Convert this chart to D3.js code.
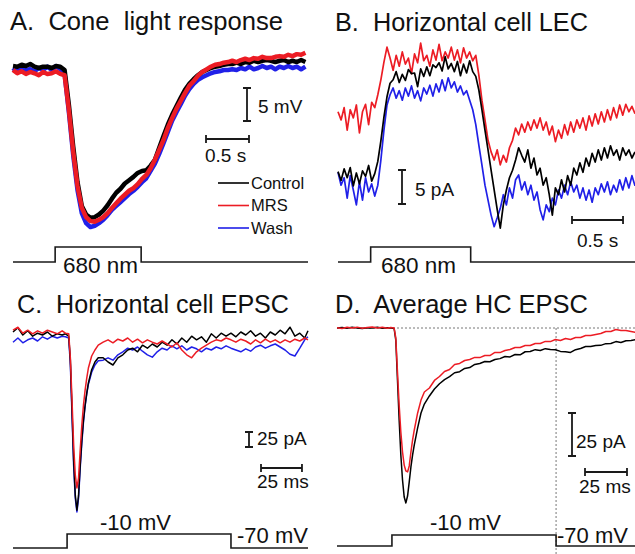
<!DOCTYPE html>
<html><head><meta charset="utf-8">
<script src="https://cdn.jsdelivr.net/npm/d3@7/dist/d3.min.js"></script>
<style>
html,body{margin:0;padding:0;background:#fff;}
svg{display:block;font-family:"Liberation Sans",Arial,Helvetica,sans-serif;}
text{fill:#111;white-space:pre;}
</style></head><body>
<svg id="fig" width="635" height="554"></svg>
<script>
// ---------------- DATA ----------------
const seriesNames = ["Control", "MRS", "Wash"];

// Panel A: cone voltage (mV, relative), sampled every 0.05 s
const coneDt = 0.05;
const coneControl = [0.3,0.2,0.5,0.3,0.6,0.2,0,0.2,0.2,0,0.3,0.2,-0.3,-5.6,-11.9,-17.3,-20.9,-22.2,-22.7,-22.6,-22.2,-21.6,-20.8,-19.8,-18.9,-18.3,-17.5,-17.0,-16.5,-15.9,-15.6,-15.5,-14.8,-13.9,-12.1,-10.3,-8.6,-7.1,-5.8,-4.5,-3.3,-2.4,-1.7,-1.1,-0.6,-0.3,0,0.2,0.3,0.5,0.6,0.6,0.8,0.6,0.9,0.8,1.1,0.9,1.1,1.2,1.1,0.9,1.1,1.2,0.9,1.1,0.9,1.2,0.9];
const coneMRS = [-0.3,-0.8,-0.5,-0.9,-0.6,-0.8,-1.1,-0.6,-0.9,-0.8,-0.5,-0.9,-1.1,-6.4,-12.7,-17.9,-21.2,-22.6,-23.2,-23.3,-23.0,-22.6,-22.0,-21.2,-20.5,-19.8,-19.2,-18.6,-18.2,-17.6,-16.8,-16.2,-15.2,-13.9,-12.4,-10.9,-9.1,-7.6,-6.2,-5.0,-3.8,-2.7,-2.0,-1.2,-0.6,-0.2,0.2,0.5,0.6,0.8,0.9,1.1,0.9,1.2,1.4,1.2,1.5,1.4,1.7,1.5,1.5,1.7,1.8,1.7,2.0,1.8,2.1,2.0,2.3];
const coneWash = [0,-0.6,0.3,-0.3,-0.2,-0.5,0,-0.3,0.2,-0.3,0.3,-0.2,-0.9,-6.7,-13.2,-18.5,-22.0,-23.5,-24.1,-23.9,-23.5,-23.0,-22.3,-21.5,-20.9,-20.3,-19.7,-19.1,-18.6,-18.0,-17.3,-16.7,-15.6,-14.5,-13.0,-11.4,-9.7,-8.0,-6.7,-5.5,-4.2,-3.2,-2.4,-1.8,-1.4,-1.1,-0.8,-0.6,-0.5,-0.3,-0.3,-0.2,-0.3,0,-0.2,0.2,-0.2,0,0.3,0,0.2,-0.2,0.2,0,0.3,0,0.2,-0.2,0.2];
const lightA = [0.49, 1.49];   // light on / off (s)

// Panel B: horizontal cell LEC (pA), sampled every 0.03 s
const lecDt = 0.03;
const lecControl = [0.5,-0.8,0.9,-0.4,1.1,-1.6,0.3,-1.3,0.6,-0.2,1.4,-0.9,0.2,2.0,5.0,8.5,11.5,13.5,14.0,15.2,13.6,14.8,13.9,15.5,14.9,15.0,13.0,15.6,14.5,15.9,14.6,16.2,15.8,16.5,15.3,17.4,15.6,16.4,15.2,16.7,14.6,16.3,15.0,16.8,15.2,14.5,12.5,9.6,6.6,3.7,0.7,-2.2,-5.1,-7.8,-4.4,-2.2,-0.4,0.7,2.2,4.0,2.9,1.9,3.7,1.0,2.5,0,1.0,-1.5,-0.4,-2.9,-5.9,-1.9,-2.9,-0.7,-2.5,-0.1,-1.5,1.0,0,1.8,0.4,2.5,1.3,3.2,1.9,3.7,2.2,4.0,2.5,4.3,2.9,3.7,2.2,4.0,2.9,3.7,2.5,3.4];
const lecMRS = [9.3,8.1,9.9,6.6,9.6,8.4,10.3,6.2,9.3,10.4,7.4,10.7,9.9,11.8,14.0,16.6,18.8,17.2,15.4,17.6,16.0,18.1,16.3,17.2,14.9,17.8,16.5,19.4,16.8,17.6,16.0,18.4,16.9,19.2,16.8,18.1,17.2,18.8,16.9,18.4,16.5,18.7,17.2,18.1,16.8,17.6,14.7,11.0,8.1,5.1,3.4,2.2,3.7,1.5,2.9,1.9,4.0,5.1,6.9,5.9,7.5,6.3,7.8,6.6,8.1,6.9,8.4,6.6,7.8,5.9,7.2,4.9,6.6,5.4,7.4,5.9,7.8,6.3,8.1,6.9,8.4,6.6,8.7,7.2,9.0,7.5,9.3,7.8,9.6,8.1,9.9,8.4,10.3,8.8,10.4,9.3,10.1,9.0];
const lecWash = [0.4,-1.5,-0.4,-3.4,-0.1,-2.2,-4.4,-1.0,-3.7,-0.4,-2.5,-1.3,-3.1,-1.5,2.2,6.6,10.3,11.8,12.8,11.3,12.4,11.0,12.8,11.6,13.1,11.3,12.4,10.9,12.8,11.9,13.2,11.6,13.4,12.2,14.0,12.4,14.3,12.8,13.7,12.2,13.1,11.8,12.4,11.0,9.6,7.4,4.4,1.5,-1.5,-3.7,-5.9,-7.6,-6.3,-4.9,-2.9,-4.4,-1.9,-3.4,-0.7,0,-2.2,-1.0,-2.9,-1.5,-3.7,-2.5,-5.1,-6.6,-4.4,-5.4,-3.4,-4.4,-2.2,-3.4,-1.5,-2.9,-1.0,-2.5,-1.5,-3.4,-1.9,-3.7,-2.2,-4.0,-1.9,-2.9,-1.3,-2.5,-1.0,-2.9,-1.5,-2.5,-0.7,-2.2,-0.4,-1.9,-0.1,-1.6];
const lightB = [0.32, 1.30];

// Panels C & D: EPSC time base (ms)
const epscTime = [0,3,6,9,12,15,18,21,24,27,30,32,34,35,36,37,38,39,40,41,42,43,44,45,46,48,50,52,55,58,61,64,67,70,73,76,79,82,85,88,91,94,97,100,103,106,109,112,115,118,121,124,127,130,133,136,139,142,145,148,151,154,157,160,163,166,169,172,175,178,180];
// Panel C: single-cell EPSC (pA)
const epscControl = [5,12,0,7,-2,3,0,5,-2,2,0,2,-2,-42,-125,-208,-267,-292,-267,-217,-175,-142,-117,-97,-80,-58,-45,-38,-38,-45,-50,-38,-33,-25,-22,-28,-17,-22,-15,-20,-12,-17,-8,-15,-5,-12,-2,-8,-3,-12,2,-5,3,-2,3,-3,5,0,7,-2,3,-5,5,0,8,2,13,-2,3,-5,7];
const epscMRS = [8,13,3,8,2,7,3,8,5,2,7,3,2,-38,-108,-183,-233,-255,-238,-192,-150,-117,-92,-72,-55,-35,-25,-17,-12,-8,-13,-7,-10,-5,-12,-7,-13,-8,-12,-15,-10,-15,-20,-13,-25,-33,-38,-28,-22,-17,-12,-8,-10,-5,-8,-12,-7,-10,-15,-8,-13,-7,-12,-8,-13,-8,-12,-7,-10,-5,-8];
const epscWash = [-12,-5,-13,-8,-5,-10,-3,-7,-2,-5,-2,-3,-5,-50,-133,-217,-272,-295,-272,-222,-180,-145,-118,-98,-82,-62,-50,-43,-42,-38,-42,-33,-28,-22,-25,-20,-27,-33,-37,-28,-22,-25,-18,-23,-18,-25,-20,-23,-28,-22,-25,-20,-23,-18,-22,-25,-28,-23,-27,-20,-17,-22,-18,-15,-20,-25,-32,-35,-22,-8,-3];
const stepC = [33, 133];   // -10 mV step (ms)
// Panel D: averaged EPSC (pA)
const avgControl = [0,0.3,-0.2,0.4,0,-0.3,0.2,0,0.4,-0.2,0.1,0,-0.3,-7.0,-30.2,-53.5,-73.8,-88.4,-98.3,-101.7,-97.7,-89.5,-80.8,-73.8,-68.0,-58.1,-49.4,-44.2,-39.5,-35.5,-32.4,-30.0,-28.3,-26.0,-25.4,-23.5,-23.0,-21.2,-20.6,-19.5,-19.6,-18.3,-17.8,-16.6,-16.8,-15.4,-15.6,-13.8,-13.7,-12.6,-13.1,-12.0,-12.5,-12.6,-13.6,-13.8,-14.2,-12.6,-11.9,-10.8,-10.8,-10.2,-10.1,-9.1,-9.0,-7.9,-8.4,-7.4,-7.2,-6.8,-7.0];
const avgMRS = [0.2,-0.3,0.4,0,0.5,-0.2,0.3,0.6,0,0.4,-0.2,0.3,0,-5.8,-25.6,-44.8,-60.5,-72.1,-79.7,-83.1,-83.7,-80.2,-72.1,-65.1,-59.3,-49.4,-41.9,-37.2,-34.9,-30.5,-28.2,-25.3,-24.1,-21.2,-20.6,-18.9,-18.3,-17.1,-17.2,-16.0,-16.0,-14.2,-14.3,-13.1,-12.5,-11.3,-11.3,-10.2,-10.2,-9.0,-9.0,-7.8,-7.9,-6.7,-7.3,-6.1,-6.7,-5.5,-5.5,-4.4,-4.4,-3.8,-3.2,-2.0,-2.0,-0.9,-1.5,-1.4,-2.0,-2.6,-2.9];
const stepD = [32.7, 130.4];
const holdLevels = [-70, -10]; // mV

// ---------------- DRAWING ----------------
const svg = d3.select("#fig");
const colors = {Control: "#000000", MRS: "#ec1c24", Wash: "#2020e8"};
const ink = "#1a1a1a";

function trace(g, xs, ys, vals, tfun, color, w) {
  const line = d3.line().x((d, i) => xs(tfun(i))).y(d => ys(d)).curve(d3.curveLinear);
  g.append("path").datum(vals).attr("d", line).attr("fill", "none")
    .attr("stroke", color).attr("stroke-width", w).attr("stroke-linejoin", "round");
}
function stimPath(g, xs, ys, t0, t1, tEnd, lo, hi) {
  const pts = [[0, lo], [t0, lo], [t0, hi], [t1, hi], [t1, lo], [tEnd, lo]];
  g.append("path").datum(pts).attr("d", d3.line().x(d => xs(d[0])).y(d => ys(d[1])))
    .attr("fill", "none").attr("stroke", ink).attr("stroke-width", 1.6);
}
function vbar(g, x, y, len) {
  g.append("path").attr("d", `M${x-4},${y}H${x+4}M${x},${y}V${y+len}M${x-4},${y+len}H${x+4}`)
    .attr("stroke", ink).attr("stroke-width", 1.8).attr("fill", "none");
}
function hbar(g, x, y, len) {
  g.append("path").attr("d", `M${x},${y-4}V${y+4}M${x},${y}H${x+len}M${x+len},${y-4}V${y+4}`)
    .attr("stroke", ink).attr("stroke-width", 1.8).attr("fill", "none");
}
function label(g, x, y, txt, size, len) {
  const t = g.append("text").attr("x", x).attr("y", y).attr("font-size", size).text(txt);
  if (len) t.attr("textLength", len).attr("lengthAdjust", "spacingAndGlyphs");
  return t;
}

// ----- Panel A -----
const gA = svg.append("g");
const xA = d3.scaleLinear().domain([0, 3.43]).range([13, 308]);
const yA = d3.scaleLinear().domain([-25, 0]).range([233, 68]);
const tA = i => i * coneDt;
trace(gA, xA, yA, coneWash, tA, colors.Wash, 4.5);
trace(gA, xA, yA, coneControl, tA, colors.Control, 4.5);
trace(gA, xA, yA, coneMRS, tA, colors.MRS, 4.5);
label(gA, 10, 30, "A.  Cone  light response", 25, 273);
vbar(gA, 247, 88, yA(0) - yA(5));
label(gA, 258, 113, "5 mV", 19);
hbar(gA, 206, 139, xA(0.5) - xA(0));
label(gA, 205, 162, "0.5 s", 19);
seriesNames.forEach((n, i) => {
  const yy = 183 + i * 22.5;
  gA.append("line").attr("x1", 218).attr("x2", 249).attr("y1", yy).attr("y2", yy)
    .attr("stroke", colors[n]).attr("stroke-width", 1.6);
  label(gA, 251, yy + 5.5, n, 16.5);
});
const ySA = d3.scaleLinear().domain([0, 1]).range([262, 247]);
stimPath(gA, xA, ySA, lightA[0], lightA[1], 3.43, 0, 1);
label(gA, 63, 273, "680 nm", 22.5);

// ----- Panel B -----
const gB = svg.append("g");
const xB = d3.scaleLinear().domain([0, 2.91]).range([338, 635]);
const yB = d3.scaleLinear().domain([-10, 25]).range([243, 5]);
const tB = i => i * lecDt;
trace(gB, xB, yB, lecWash, tB, colors.Wash, 1.7);
trace(gB, xB, yB, lecMRS, tB, colors.MRS, 1.7);
trace(gB, xB, yB, lecControl, tB, colors.Control, 1.7);
label(gB, 335, 31, "B.  Horizontal cell LEC", 25, 253);
vbar(gB, 402, 170, yB(0) - yB(5));
label(gB, 415, 196, "5 pA", 19);
hbar(gB, 572, 220, xB(0.5) - xB(0));
label(gB, 577, 247, "0.5 s", 19);
const ySB = d3.scaleLinear().domain([0, 1]).range([262, 247]);
stimPath(gB, xB, ySB, lightB[0], lightB[1], 2.91, 0, 1);
label(gB, 381, 273, "680 nm", 22.5);

// ----- Panel C -----
const gC = svg.append("g");
const xC = d3.scaleLinear().domain([0, 180]).range([13, 308]);
const yC = d3.scaleLinear().domain([-300, 20]).range([515, 323]);
const tC = i => epscTime[i];
trace(gC, xC, yC, epscWash, tC, colors.Wash, 1.5);
trace(gC, xC, yC, epscControl, tC, colors.Control, 1.5);
trace(gC, xC, yC, epscMRS, tC, colors.MRS, 1.5);
label(gC, 17, 313, "C.  Horizontal cell EPSC", 25, 272);
vbar(gC, 249, 432, yC(0) - yC(25));
label(gC, 257, 445, "25 pA", 19);
hbar(gC, 261, 468, xC(25) - xC(0));
label(gC, 257, 488, "25 ms", 19);
const ySC = d3.scaleLinear().domain(holdLevels).range([548, 534]);
stimPath(gC, xC, ySC, stepC[0], stepC[1], 180, -70, -10);
label(gC, 100, 530, "-10 mV", 22);
label(gC, 237, 543, "-70 mV", 22);

// ----- Panel D -----
const gD = svg.append("g");
const xD = d3.scaleLinear().domain([0, 180]).range([337, 639.4]);
const yD = d3.scaleLinear().domain([-110, 10]).range([517.2, 310.8]);
const tD = i => epscTime[i];
gD.append("line").attr("x1", 337).attr("x2", 635).attr("y1", yD(0)).attr("y2", yD(0))
  .attr("stroke", "#777").attr("stroke-width", 1).attr("stroke-dasharray", "2,2");
gD.append("line").attr("x1", xD(stepD[1])).attr("x2", xD(stepD[1])).attr("y1", yD(0)).attr("y2", 554)
  .attr("stroke", "#777").attr("stroke-width", 1).attr("stroke-dasharray", "2,2");
trace(gD, xD, yD, avgControl, tD, colors.Control, 1.5);
trace(gD, xD, yD, avgMRS, tD, colors.MRS, 1.5);
label(gD, 335, 313, "D.  Average HC EPSC", 25, 253);
vbar(gD, 572, 413, yD(0) - yD(25));
label(gD, 576, 448, "25 pA", 19);
hbar(gD, 585, 472, xD(25) - xD(0));
label(gD, 579, 493, "25 ms", 19);
const ySD = d3.scaleLinear().domain(holdLevels).range([546, 535]);
stimPath(gD, xD, ySD, stepD[0], stepD[1], 180, -70, -10);
label(gD, 430, 530, "-10 mV", 22);
label(gD, 557, 543, "-70 mV", 22);
</script>
</body></html>
